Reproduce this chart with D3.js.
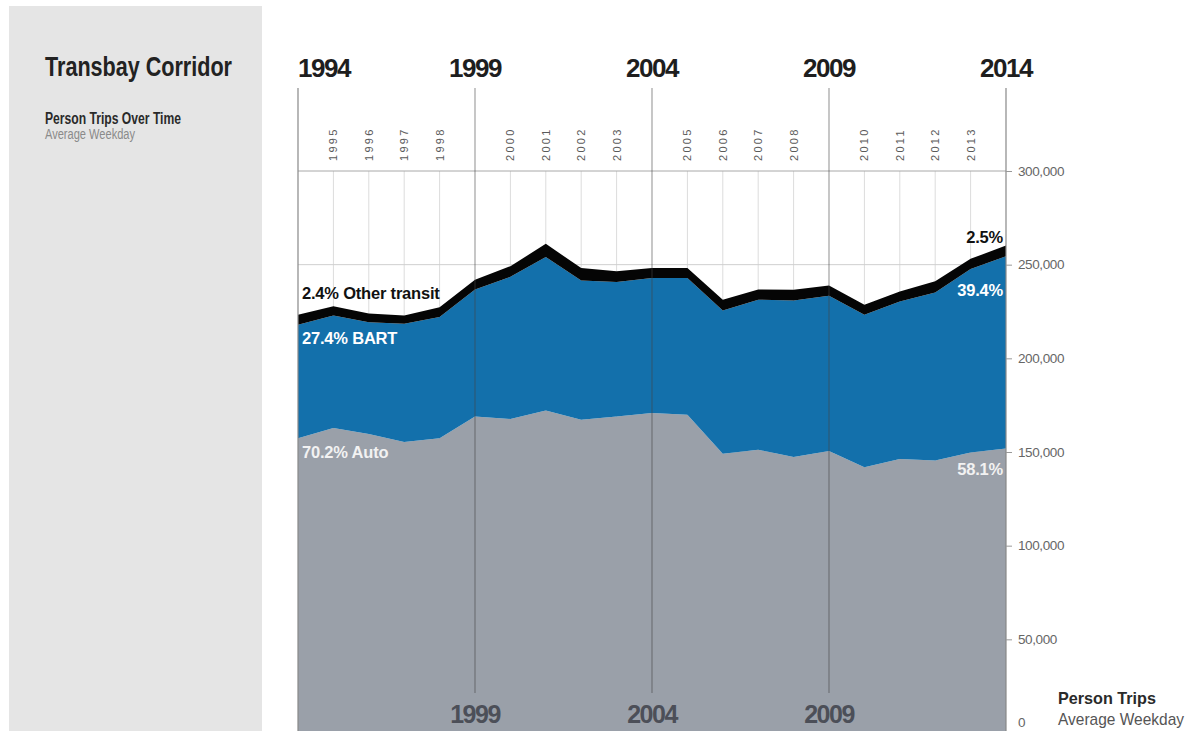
<!DOCTYPE html>
<html>
<head>
<meta charset="utf-8">
<script src="https://cdn.jsdelivr.net/npm/d3@7/dist/d3.min.js"></script>
<style>
  body { margin: 0; background: #fff; }
  svg { display: block; }
  .sans { font-family: "Liberation Sans", Arial, sans-serif; }
</style>
</head>
<body>
<svg id="chart" width="1190" height="731"></svg>
<script>
// Transbay corridor person trips, average weekday
const years = [1994, 1995, 1996, 1997, 1998, 1999, 2000, 2001, 2002, 2003, 2004,
               2005, 2006, 2007, 2008, 2009, 2010, 2011, 2012, 2013, 2014];
const autoTrips = [157400, 162800, 159600, 155300, 157400, 169000, 167600, 172200, 167200, 169000, 170800,
                   169900, 149000, 151200, 147300, 150600, 141900, 146200, 145500, 149700, 151900];
const bartTrips = [60500, 60000, 59600, 63200, 64600, 67700, 75900, 81900, 74400, 71800, 72100,
                   73000, 76600, 80100, 83600, 82800, 81400, 84200, 89700, 98000, 102600];
const otherTrips = [5300, 5000, 4700, 4400, 5300, 5300, 5700, 7000, 6600, 5700, 5300,
                    5300, 5700, 5400, 5700, 5500, 5300, 5300, 5900, 5400, 5700];

const majorYears = [1994, 1999, 2004, 2009, 2014];
const bottomYears = [1999, 2004, 2009];
const yTicks = [0, 50000, 100000, 150000, 200000, 250000, 300000];

const seriesKeys = ["auto", "bart", "other"];
const seriesColors = { auto: "#9aa0a9", bart: "#1370ab", other: "#050505" };
const startLabels = ["2.4% Other transit", "27.4% BART", "70.2% Auto"];
const endLabels = ["2.5%", "39.4%", "58.1%"];

const PLOT = { left: 298, right: 1006, top: 171, bottom: 733, frameTop: 88 };

const svg = d3.select("#chart");

const x = d3.scaleLinear().domain([1994, 2014]).range([PLOT.left, PLOT.right]);
const y = d3.scaleLinear().domain([0, 300000]).range([PLOT.bottom, PLOT.top]);

const rows = years.map((yr, i) => ({
    year: yr,
    auto: autoTrips[i],
    bart: bartTrips[i],
    other: otherTrips[i]
}));
const stacked = d3.stack().keys(seriesKeys)(rows);

drawSidePanel();
drawGrid();
drawAreas();
drawMajorLines();
drawYearLabels();
drawYAxis();
drawSeriesLabels();

// condensed look: squeeze the text to the width seen in the picture
function condensedText(parent, str, opts) {
    return parent.append("text").attr("class", "sans")
        .attr("x", opts.x).attr("y", opts.y)
        .attr("font-size", opts.size)
        .attr("font-weight", opts.bold ? "bold" : "normal")
        .attr("fill", opts.fill)
        .attr("textLength", opts.width)
        .attr("lengthAdjust", "spacingAndGlyphs")
        .text(str);
}

function drawSidePanel() {
    svg.append("rect")
        .attr("x", 9).attr("y", 6)
        .attr("width", 253).attr("height", 740)
        .attr("fill", "#e5e5e5");

    condensedText(svg, "Transbay Corridor", { x: 45, y: 76, size: 28, bold: true, fill: "#222", width: 187 });
    condensedText(svg, "Person Trips Over Time", { x: 45, y: 124, size: 16, bold: true, fill: "#2a2a2a", width: 136 });
    condensedText(svg, "Average Weekday", { x: 45, y: 139, size: 14, fill: "#8a8a8a", width: 90 });
}

function drawGrid() {
    const minorYears = years.filter(yr => !majorYears.includes(yr));

    // light vertical lines for the in-between years
    svg.append("g").selectAll("line")
        .data(minorYears)
        .join("line")
        .attr("x1", d => x(d)).attr("x2", d => x(d))
        .attr("y1", PLOT.top).attr("y2", PLOT.bottom)
        .attr("stroke", "#dcdcdc").attr("stroke-width", 1);

    svg.append("g").selectAll("text")
        .data(minorYears)
        .join("text")
        .attr("class", "sans")
        .attr("transform", d => `translate(${x(d) + 4},161) rotate(-90)`)
        .attr("font-size", 11)
        .attr("letter-spacing", 2.3)
        .attr("fill", "#5a5a5a")
        .text(d => d);

    // horizontal gridlines, mostly hidden by the areas
    svg.append("g").selectAll("line")
        .data(yTicks.filter(t => t > 0))
        .join("line")
        .attr("x1", PLOT.left).attr("x2", PLOT.right)
        .attr("y1", d => y(d)).attr("y2", d => y(d))
        .attr("stroke", d => d === 300000 ? "#a8a8a8" : "#cfcfcf")
        .attr("stroke-width", 1);
}

function drawAreas() {
    const area = d3.area()
        .x(d => x(d.data.year))
        .y0(d => y(d[0]))
        .y1(d => y(d[1]));

    svg.append("g").selectAll("path")
        .data(stacked)
        .join("path")
        .attr("d", area)
        .attr("fill", d => seriesColors[d.key]);
}

function drawMajorLines() {
    const g = svg.append("g");
    // chart edges run full height
    g.selectAll("line.edge")
        .data([1994, 2014])
        .join("line")
        .attr("class", "edge")
        .attr("x1", d => x(d)).attr("x2", d => x(d))
        .attr("y1", PLOT.frameTop).attr("y2", PLOT.bottom)
        .attr("stroke", "#888").attr("stroke-width", 1.2);

    g.selectAll("line.major")
        .data(bottomYears)
        .join("line")
        .attr("class", "major")
        .attr("x1", d => x(d)).attr("x2", d => x(d))
        .attr("y1", PLOT.frameTop).attr("y2", 693)
        .attr("stroke", "#444").attr("stroke-opacity", 0.5).attr("stroke-width", 1.2);
}

function drawYearLabels() {
    svg.append("g").selectAll("text")
        .data(majorYears)
        .join("text")
        .attr("class", "sans")
        .attr("x", d => x(d))
        .attr("y", 77)
        .attr("text-anchor", d => d === 1994 ? "start" : "middle")
        .attr("font-size", 26).attr("font-weight", "bold")
        .attr("letter-spacing", -1.5)
        .attr("fill", "#1e1e1e")
        .text(d => d);

    svg.append("g").selectAll("text")
        .data(bottomYears)
        .join("text")
        .attr("class", "sans")
        .attr("x", d => x(d))
        .attr("y", 723)
        .attr("text-anchor", "middle")
        .attr("font-size", 25).attr("font-weight", "bold")
        .attr("letter-spacing", -1.5)
        .attr("fill", "#4c4f58")
        .text(d => d);
}

function drawYAxis() {
    const axis = d3.axisRight(y)
        .tickValues(yTicks)
        .tickSize(6)
        .tickPadding(6)
        .tickFormat(d3.format(","));

    const g = svg.append("g")
        .attr("transform", `translate(${PLOT.right},0)`)
        .call(axis);

    g.select(".domain").remove();
    g.selectAll(".tick line").attr("stroke", "#999");
    g.selectAll(".tick text")
        .attr("class", "sans")
        .attr("font-size", 13.5)
        .attr("fill", "#666")
        .attr("letter-spacing", -0.4)
        .attr("dy", d => d === 0 ? "-0.45em" : "0.32em");

    condensedText(svg, "Person Trips", { x: 1058, y: 704, size: 17, bold: true, fill: "#2a2a2a", width: 98 });
    condensedText(svg, "Average Weekday", { x: 1058, y: 725, size: 17, fill: "#555", width: 126 });
}

function drawSeriesLabels() {
    const first = 0, last = years.length - 1;
    const topOf = (key, i) => stacked[seriesKeys.indexOf(key)][i][1];

    // left side: other / bart / auto
    const startOffsets = [-16, 19, 20];
    const labelColors = ["#111", "#fff", "#f2f2f2"];
    ["other", "bart", "auto"].forEach((key, k) => {
        svg.append("text").attr("class", "sans")
            .attr("x", PLOT.left + 4)
            .attr("y", y(topOf(key, first)) + startOffsets[k])
            .attr("font-size", 16.5).attr("font-weight", "bold")
            .attr("letter-spacing", -0.2)
            .attr("fill", labelColors[k])
            .text(startLabels[k]);
    });

    // right side
    const endOffsets = [-3, 40, 27];
    ["other", "bart", "auto"].forEach((key, k) => {
        svg.append("text").attr("class", "sans")
            .attr("x", PLOT.right - 3)
            .attr("y", y(topOf(key, last)) + endOffsets[k])
            .attr("text-anchor", "end")
            .attr("font-size", 16.5).attr("font-weight", "bold")
            .attr("letter-spacing", -0.2)
            .attr("fill", labelColors[k])
            .text(endLabels[k]);
    });
}
</script>
</body>
</html>
